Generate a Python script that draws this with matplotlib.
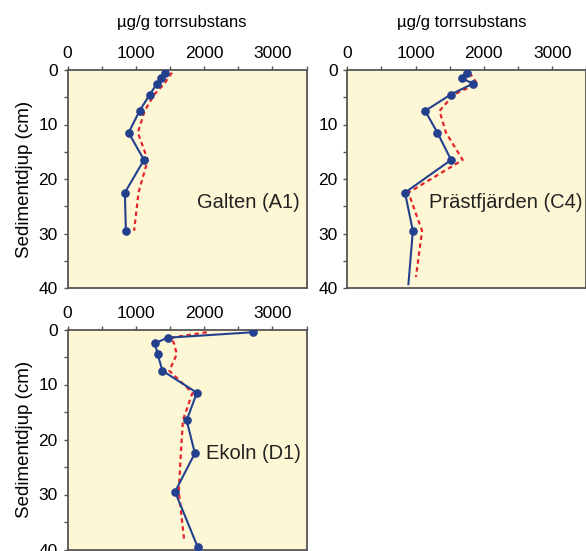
import matplotlib
matplotlib.use("Agg")
import matplotlib.pyplot as plt
from matplotlib.ticker import MultipleLocator

plt.rcParams['font.family'] = ['Liberation Sans', 'DejaVu Sans']

# Galten (A1)
galten_depth = [0.5, 1.5, 2.5, 4.5, 7.5, 11.5, 16.5, 22.5, 29.5]
galten_blue = [1435, 1370, 1310, 1205, 1055, 895, 1120, 840, 855]
galten_red = [1530, 1470, 1420, 1270, 1130, 1030, 1175, 1040, 975]

# Prästfjärden (C4)
prast_depth = [0.5, 1.5, 2.5, 4.5, 7.5, 11.5, 16.5, 22.5, 29.5, 39.3]
prast_blue = [1750, 1675, 1840, 1515, 1140, 1320, 1520, 845, 960, 895]
prast_red_depth = [0.5, 2.5, 4.5, 7.5, 11.5, 16.5, 22.5, 29.5, 38.0]
prast_red = [1790, 1900, 1560, 1350, 1445, 1690, 895, 1095, 1005]

# Ekoln (D1)
ekoln_depth = [0.5, 1.5, 2.5, 4.5, 7.5, 11.5, 16.5, 22.5, 29.5, 39.5]
ekoln_blue = [2710, 1465, 1280, 1320, 1390, 1895, 1745, 1865, 1575, 1905]
ekoln_red_depth = [0.5, 1.5, 2.5, 4.5, 7.5, 11.5, 16.5, 22.5, 29.5, 38.5]
ekoln_red = [2040, 1510, 1560, 1600, 1490, 1830, 1690, 1660, 1630, 1710]

BLUE = '#23408e'
RED = '#e3242b'
BG = '#fdf7d5'
SPINE = '#555555'

fig = plt.figure(figsize=(5.86, 5.51), dpi=100)

W, H = 586, 551


def make_axes(left, top, width, height):
    return fig.add_axes([left / W, (H - top - height) / H, width / W, height / H])


def style(ax, xlabel=None):
    ax.set_facecolor(BG)
    ax.set_xlim(0, 3500)
    ax.set_ylim(40, 0)
    ax.xaxis.set_ticks_position('top')
    ax.xaxis.set_label_position('top')
    ax.set_xticks([0, 1000, 2000, 3000])
    ax.xaxis.set_minor_locator(MultipleLocator(500))
    ax.set_yticks([0, 10, 20, 30, 40])
    ax.yaxis.set_minor_locator(MultipleLocator(5))
    ax.tick_params(which='both', direction='out', length=2.7, width=1,
                   color=SPINE, labelsize=12.5)
    ax.tick_params(axis='x', which='major', pad=3.5)
    ax.tick_params(axis='y', which='major', pad=4.3)
    for s in ax.spines.values():
        s.set_color(SPINE)
        s.set_linewidth(1.3)
    if xlabel:
        ax.set_xlabel(xlabel, fontsize=12, labelpad=14)
        ax.xaxis.label.set_x(0.48)


def draw(ax, depth, blue, red_depth, red, name, pos, marked=None):
    ax.plot(red, red_depth, color=RED, linestyle=(0, (2, 1.6)), linewidth=1.6, zorder=2)
    if marked is None:
        marked = len(depth)
    ax.plot(blue, depth, color=BLUE, linewidth=1.5, marker='o', markersize=5.2,
            markevery=list(range(marked)), zorder=3)
    ax.text(pos[0], pos[1], name, transform=ax.transAxes, ha='right', va='center',
            fontsize=14.5, color='#222222')


ax1 = make_axes(67.5, 70, 239, 218)
style(ax1, 'µg/g torrsubstans')
draw(ax1, galten_depth, galten_blue, galten_depth, galten_red, 'Galten (A1)', (0.973, 0.39))
ax1.set_ylabel('Sedimentdjup (cm)', fontsize=13.5)

ax2 = make_axes(347.3, 70, 239, 218)
style(ax2, 'µg/g torrsubstans')
draw(ax2, prast_depth, prast_blue, prast_red_depth, prast_red, 'Prästfjärden (C4)',
     (0.985, 0.39), marked=9)

ax3 = make_axes(67.5, 329.5, 239, 220)
style(ax3)
draw(ax3, ekoln_depth, ekoln_blue, ekoln_red_depth, ekoln_red, 'Ekoln (D1)', (0.976, 0.436))
ax3.set_ylabel('Sedimentdjup (cm)', fontsize=13.5)

fig.savefig('out.png', dpi=100)
